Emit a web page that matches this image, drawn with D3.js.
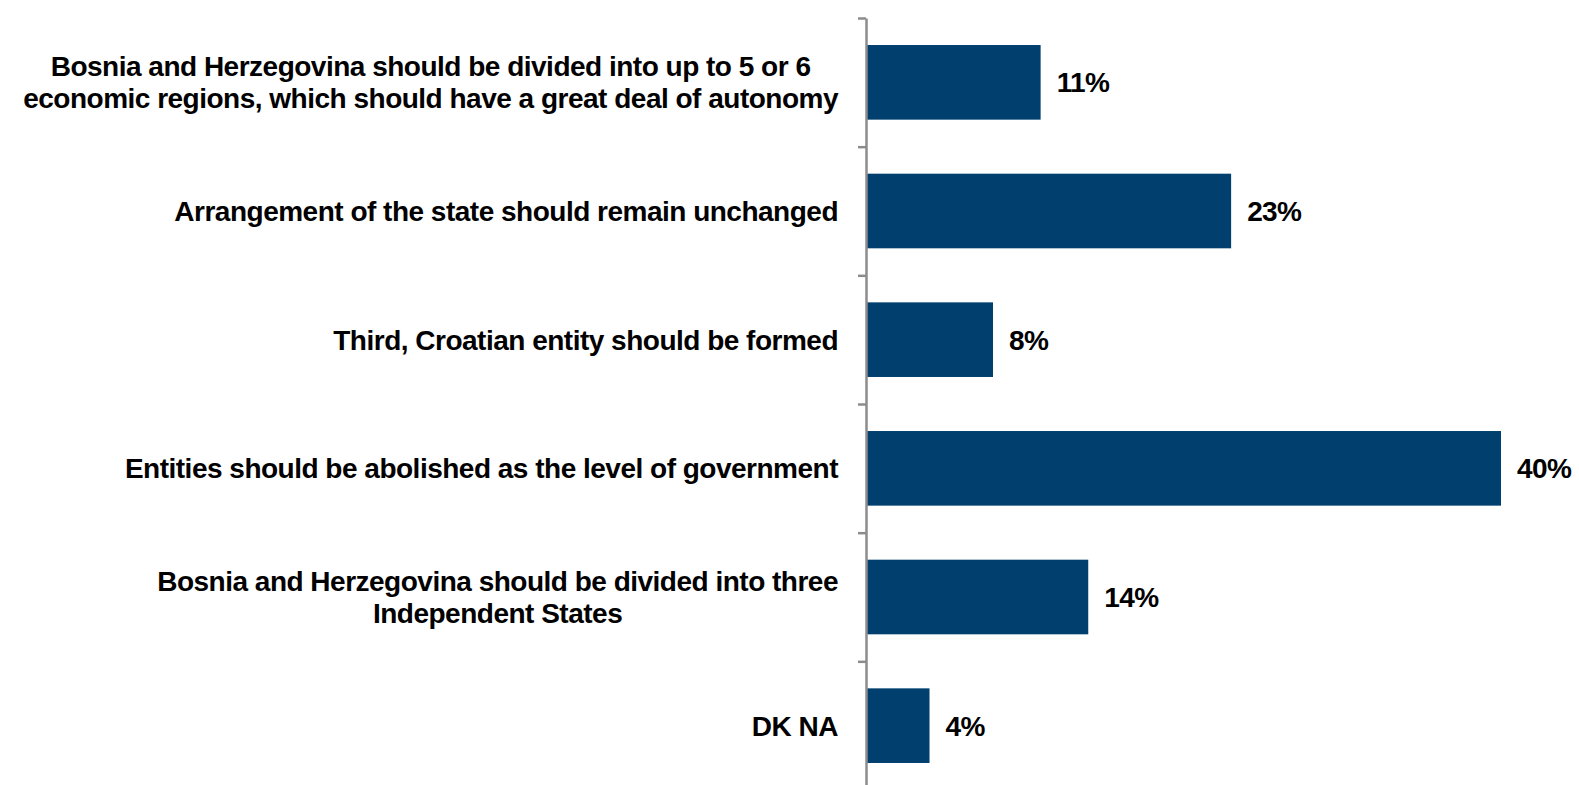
<!DOCTYPE html>
<html><head><meta charset="utf-8">
<script src="https://cdn.jsdelivr.net/npm/d3@7"></script>
<style>
body{margin:0;background:#fff;}
text{font-family:"Liberation Sans",Arial,sans-serif;font-weight:bold;fill:#000;}
</style></head>
<body><svg id="c" width="1579" height="785"></svg>
<script>
const categories = [
  ["Bosnia and Herzegovina should be divided into up to 5 or 6", "economic regions, which should have a great deal of autonomy"],
  ["Arrangement of the state should remain unchanged"],
  ["Third, Croatian entity should be formed"],
  ["Entities should be abolished as the level of government"],
  ["Bosnia and Herzegovina should be divided into three", "Independent States"],
  ["DK NA"]
];
const values = [11, 23, 8, 40, 14, 4];
const valueLabels = ["11%", "23%", "8%", "40%", "14%", "4%"];

const svg = d3.select("#c");
const x0 = 866;
const x = d3.scaleLinear().domain([0, 40]).range([x0, x0 + 635]);
const ids = categories.map((d, i) => i);
const y = d3.scaleBand().domain(ids).range([18, 790]).paddingInner(0.42).paddingOuter(0.21);
const yTicks = d3.scaleLinear().domain([0, categories.length]).range([18, 790]);

// bars
svg.selectAll("rect.bar").data(values).join("rect")
  .attr("class", "bar")
  .attr("x", x(0))
  .attr("y", (d, i) => y(i))
  .attr("width", d => x(d) - x(0))
  .attr("height", y.bandwidth())
  .attr("fill", "#003F6E");

// axis
const ax = svg.append("g").attr("transform", `translate(${x0},0)`)
  .call(d3.axisLeft(yTicks).tickValues(d3.range(categories.length + 1)).tickFormat("").tickSize(8).tickSizeOuter(0));
ax.selectAll("path,line").attr("stroke", "#8c8c8c").attr("stroke-width", 2.5);

// value labels
svg.selectAll("text.val").data(values).join("text")
  .attr("class", "val")
  .attr("x", d => x(d) + 16)
  .attr("y", (d, i) => y(i) + y.bandwidth() / 2)
  .attr("dy", "0.36em")
  .attr("font-size", 28)
  .attr("letter-spacing", -0.6)
  .text((d, i) => valueLabels[i]);

// category labels
const labelRight = 838;
const lineH = 32;
categories.forEach((lines, i) => {
  const g = svg.append("g");
  const cy = y(i) + y.bandwidth() / 2;
  const ts = lines.map((ln, j) => g.append("text")
    .attr("font-size", 28)
    .attr("letter-spacing", -0.5)
    .attr("text-anchor", "middle")
    .attr("y", cy + (j - (lines.length - 1) / 2) * lineH)
    .attr("dy", "0.36em")
    .text(ln));
  const maxW = d3.max(ts, t => t.node().getComputedTextLength());
  ts.forEach(t => t.attr("x", labelRight - maxW / 2));
});
</script></body></html>
